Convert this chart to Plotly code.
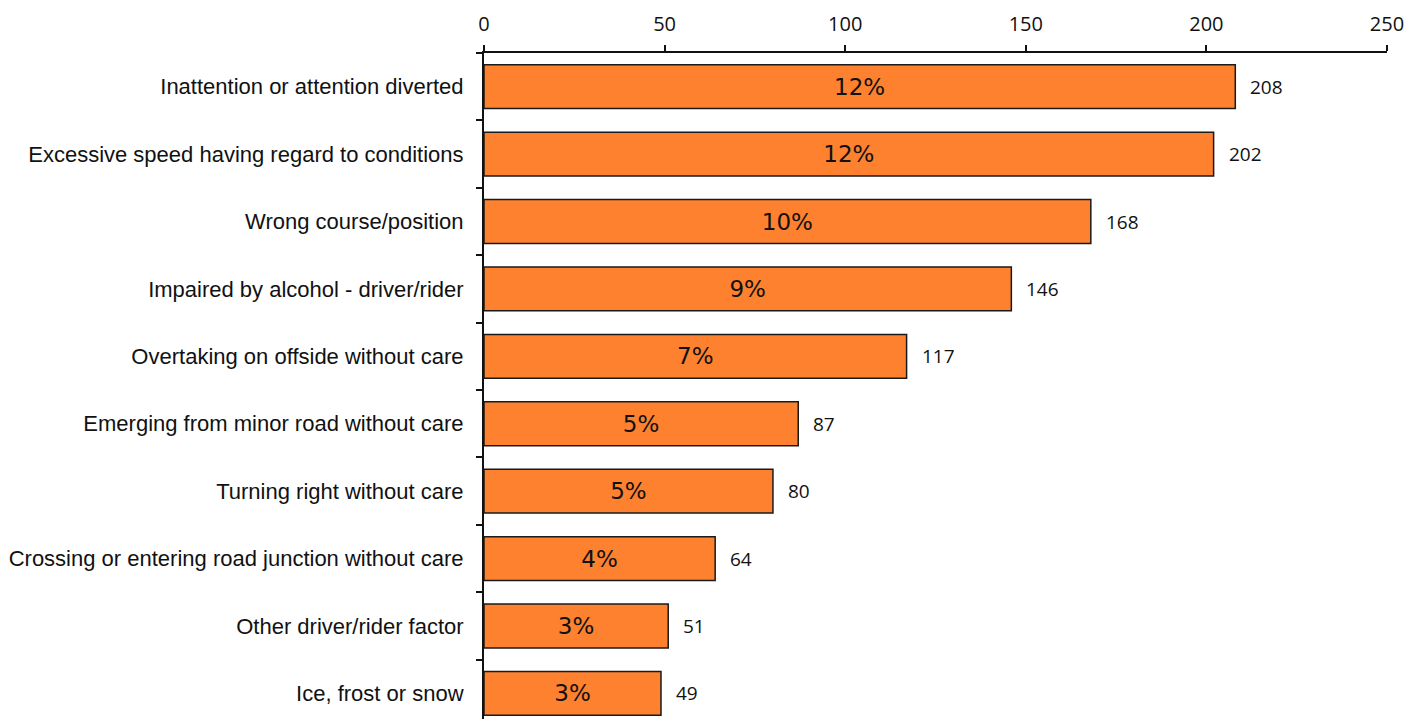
import plotly.graph_objects as go

categories = [
    "Inattention or attention diverted",
    "Excessive speed having regard to conditions",
    "Wrong course/position",
    "Impaired by alcohol - driver/rider",
    "Overtaking on offside without care",
    "Emerging from minor road without care",
    "Turning right without care",
    "Crossing or entering road junction without care",
    "Other driver/rider factor",
    "Ice, frost or snow",
]
values = [208, 202, 168, 146, 117, 87, 80, 64, 51, 49]
percents = ["12%", "12%", "10%", "9%", "7%", "5%", "5%", "4%", "3%", "3%"]
x_ticks = [0, 50, 100, 150, 200, 250]

fig = go.Figure()
fig.add_trace(go.Bar(
    y=categories, x=values, orientation="h",
    marker=dict(color="#FD812F", line=dict(color="#1a1a1a", width=1.5)),
    text=percents, textposition="inside", insidetextanchor="middle",
    textfont=dict(family="DejaVu Sans", size=23, color="#111111"),
    constraintext="none",
    hoverinfo="skip",
))

for c, v in zip(categories, values):
    fig.add_annotation(x=v, y=c, text=str(v), showarrow=False,
                       xanchor="left", xshift=13,
                       font=dict(family="Open Sans", size=19, color="#111111"))

fig.update_layout(
    width=1406, height=719,
    margin=dict(l=484, r=19, t=53, b=0),
    plot_bgcolor="white", paper_bgcolor="white",
    bargap=0.35, showlegend=False,
    uniformtext=dict(mode="show", minsize=8),
)
fig.update_xaxes(
    side="top", range=[0, 250], tickvals=x_ticks,
    showgrid=False, zeroline=False,
    showline=True, linecolor="#111111", linewidth=2,
    ticks="outside", ticklen=6, tickwidth=2, tickcolor="#111111",
    tickfont=dict(family="Open Sans", size=20, color="#111111"),
    ticklabelstandoff=6,
)
fig.update_yaxes(
    type="category", range=[9.38, -0.5],
    showgrid=False, zeroline=False,
    showline=True, linecolor="#111111", linewidth=2,
    ticks="outside", ticklen=6, tickwidth=2, tickcolor="#111111",
    tickson="boundaries",
    tickfont=dict(family="Liberation Sans", size=22, color="#111111"),
    ticklabelstandoff=14,
)

fig.write_html("out.html")
